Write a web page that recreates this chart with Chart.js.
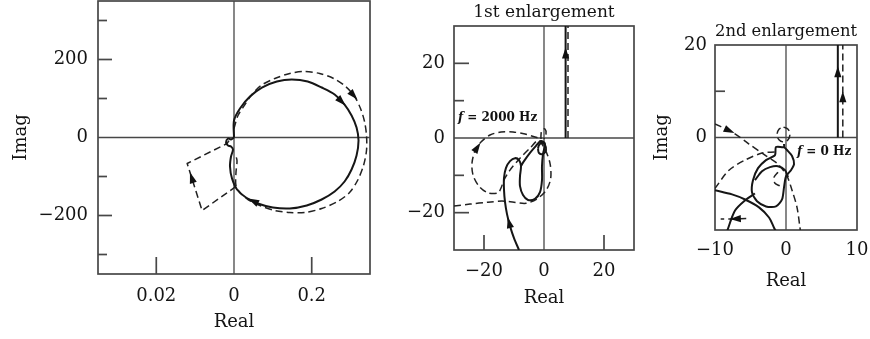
<!DOCTYPE html>
<html>
<head>
<meta charset="utf-8">
<script src="https://cdn.jsdelivr.net/npm/chart.js@4.4.1/dist/chart.umd.min.js"></script>
<style>
  html, body { margin: 0; padding: 0; background: #fff; }
  #wrap { position: relative; width: 870px; height: 339px; overflow: hidden; }
  #wrap canvas { position: absolute; top: 0; }
</style>
</head>
<body>
<div id="wrap">
  <canvas id="full" width="400" height="339" style="left:0px"></canvas>
  <canvas id="enl1" width="270" height="339" style="left:380px"></canvas>
  <canvas id="enl2" width="220" height="339" style="left:650px"></canvas>
</div>
<script>
// ---------- Nyquist curves, [Real, Imag] ----------

// Full view
const fullSolid = [[0,0],[0,43.6],[0.0154,74.4],[0.041,105.1],[0.0718,128.2],[0.1103,143.6],[0.1487,148.7],[0.1897,143.6],[0.2256,128.2],[0.259,110.3],[0.2846,84.6],[0.3026,56.4],[0.3154,25.6],[0.3205,-7.7],[0.3154,-46.2],[0.3026,-82.1],[0.2846,-112.8],[0.259,-138.5],[0.2256,-159],[0.1872,-174.4],[0.1436,-182.1],[0.1,-179.5],[0.0615,-169.2],[0.0308,-153.8],[0.0077,-133.3],[-0.0051,-105.1],[-0.0103,-74.4],[-0.0077,-48.7],[-0.0026,-30.8],[-0.0077,-23.1],[-0.0154,-20.5],[-0.0205,-12.8],[-0.0154,-2.6],[-0.0077,-5.1],[0,0]];
const fullDashed = [[0,23.1],[0.0103,56.4],[0.0282,84.6],[0.0462,110.3],[0.0692,133.3],[0.1051,151.3],[0.1436,164.1],[0.1821,169.2],[0.2205,164.1],[0.2564,151.3],[0.2872,130.8],[0.3103,105.1],[0.3256,74.4],[0.3359,41],[0.341,5.1],[0.341,-33.3],[0.3333,-71.8],[0.3179,-110.3],[0.2974,-141],[0.2667,-164.1],[0.2256,-182.1],[0.1821,-192.3],[0.1436,-192.3],[0.1051,-187.2],[0.0667,-174.4],[0.0359,-159],[0.0154,-141],[0.0051,-123.1],[0.0051,-89.7],[0.0077,-59],[0.0026,-41]];
const fullDashedTail = [[0.0051,-125.6],[-0.0821,-187.2],[-0.1205,-66.7],[-0.0179,-15.4],[-0.0128,-7.7]];
// arrow positions, as fractional point index along each curve
const fullSolidArrows = [9.7, 22.4];
const fullDashedArrows = [10.9];
const fullTailArrows = [1.7];
// axis ticks
const fullXTicks = [-0.2, 0, 0.2];
const fullXLabels = ['0.02', '0', '0.2'];
const fullYTicks = [-200, 0, 200];
const fullYLabels = ['\u2212200', '0', '200'];
const fullYMinor = [-300, -100, 100, 300];
const fullXMajor = [-0.2, 0.2];
const fullYMajor = [-200, 200];

// 1st enlargement
const enl1Solid = [[-8.33,-30],[-10,-26.8],[-11.33,-23.6],[-12.33,-20.4],[-13,-17.1],[-13.33,-13.9],[-13.33,-10.7],[-12.67,-8.0],[-11.33,-6.2],[-9.67,-5.4],[-8.33,-5.9],[-7.67,-7.5],[-8,-10.2],[-8,-12.9],[-7,-15.3],[-5.33,-16.6],[-3,-16.3],[-1.33,-14.5],[-0.67,-11.3],[-0.67,-7.5],[-0.33,-4.3],[0.33,-1.6],[-1,-0.8],[-2.67,-2.1],[-4.67,-4.0],[-6.67,-6.2],[-7.67,-7.5]];
const enl1SolidLoop = [[-2,-2.9],[-1.67,-1.9],[-0.67,-1.3],[0.33,-1.9],[0.67,-3.2],[-0.33,-4.3],[-1.67,-4.0],[-2,-2.9]];
const enl1SolidRise = [[7.2,0],[7.2,30]];
const enl1Dashed = [[-30,-18.2],[-24.67,-17.7],[-18.67,-17.2],[-14,-16.9],[-10,-17.2],[-6,-17.5],[-2.3,-16.3],[0.7,-14],[2.2,-11],[2.1,-7.2],[0.9,-4],[-0.7,-1.6],[-2,-0.6],[-4.67,-2.7],[-8,-5.4],[-11.33,-8.6],[-13.33,-11.25],[-14.33,-13.4],[-15.33,-14.7],[-18.67,-14.7],[-21.67,-12.9],[-23.67,-9.9],[-24,-6.7],[-23,-3.5],[-21,-1.07],[-18,0.8],[-14.33,1.6],[-10.33,1.6],[-6.33,1.07],[-3,0.27],[-1,-0.27]];
const enl1DashedSmall = [[-1,-0.27],[-1,0.8],[-0.67,2.1],[0.33,2.4],[0.67,1.07],[0,-0.27]];
const enl1DashedRise = [[8,0],[8,30]];
const enl1SolidArrows = [2.3];
const enl1RiseArrows = [0.76];
const enl1DashedArrows = [23.4];
const enl1XTicks = [-20, 0, 20];
const enl1XLabels = ['\u221220', '0', '20'];
const enl1YTicks = [-20, 0, 20];
const enl1YLabels = ['\u221220', '0', '20'];
const enl1XMajor = [-20, 20];
const enl1YMajor = [-20, 20];
const enl1YMinor = [-10, 10];
const enl1Note = { x: -28.7, y: 5.4, italic: 'f', text: ' = 2000 Hz' };

// 2nd enlargement
const enl2SolidRise = [[7.3,0],[7.3,20]];
const enl2SolidLoop = [[-0.28,-1.41],[-0.28,-2.07],[-1.41,-2.07],[-1.55,-3.8],[-2.82,-4.89],[-3.94,-6.63],[-4.65,-9.24],[-4.79,-11.85],[-4.08,-13.8],[-2.82,-14.9],[-1.41,-14.9],[-0.56,-13.4],[-0.28,-10.8],[0,-8.4],[0.7,-7.07],[1.13,-5.76],[0.85,-4.0],[0.14,-2.7],[-0.28,-2.07]];
const enl2SolidHat = [[-4.37,-9.24],[-3.38,-7.28],[-2.25,-6.41],[-1.13,-6.2],[-0.14,-7.07],[0.28,-8.59]];
const enl2SolidArc1 = [[-10,-11.4],[-7.6,-12.3],[-5.77,-13.4],[-3.8,-15.1],[-2.39,-17.3],[-1.69,-19.5],[-1.41,-20.3]];
const enl2SolidArc2 = [[-8.31,-20.3],[-7.18,-15.8],[-5.77,-13.6],[-4.37,-12.1]];
const enl2DashedRise = [[8,0],[8,20]];
const enl2DashedArcA = [[-10,2.93],[-7.6,1.2],[-5.21,-1.41],[-2.96,-3.8],[-1.13,-5.76],[0.14,-8.37],[0.85,-11.4],[1.55,-15.1],[1.97,-19.5],[2.11,-21.2]];
const enl2DashedArcB = [[-10,-11],[-8.03,-7.07],[-5.77,-4.89],[-3.38,-3.37],[-1.55,-3.15]];
const enl2DashedOrigin = [[-0.35,2.25],[0.29,1.78],[0.55,0.65],[0.29,-0.48],[-0.35,-0.95],[-0.99,-0.48],[-1.25,0.65],[-0.99,1.78],[-0.35,2.25]];
const enl2DashedBit = [[-1.13,-7.5],[-1.69,-8.6],[-1.55,-9.9],[-0.85,-10.5]];
const enl2DashedHook = [[-5.6,-17.5],[-7.3,-17.6],[-9.2,-17.6]];
const enl2SolidRiseArrows = [0.71];
const enl2DashedRiseArrows = [0.44];
const enl2ArcAArrows = [0.85];
const enl2HookArrows = [0.9];
const enl2XTicks = [-10, 0, 10];
const enl2XLabels = ['\u221210', '0', '10'];
const enl2YTicks = [0, 20];
const enl2YLabels = ['0', '20'];
const enl2YMinor = [10];
const enl2Note = { x: 1.55, y: -3.15, italic: 'f', text: ' = 0 Hz' };

// ---------- drawing helpers ----------
const INK = '#161616';
const FRAME = '#474747';
const TEXT = '#141414';
const SERIF = "'DejaVu Serif', 'Liberation Serif', serif";
Chart.defaults.font.family = SERIF;
Chart.defaults.color = TEXT;

function solid(points, arrows, tension) {
  return {
    data: points.map(([x, y]) => ({ x, y })),
    showLine: true, pointRadius: 0, borderColor: INK, borderWidth: 2,
    borderJoinStyle: 'round', tension: tension === undefined ? 0.3 : tension,
    arrowsAt: arrows || []
  };
}
function dashed(points, arrows, tension) {
  const d = solid(points, arrows, tension);
  d.borderWidth = 1.5;
  d.borderDash = [7, 4];
  d.borderColor = '#222';
  return d;
}

// frame around the plot area, zero axes and inward tick marks
const framePlugin = {
  id: 'frame',
  beforeDatasetsDraw(chart, args, o) {
    const { ctx, chartArea: a, scales: { x, y } } = chart;
    const seg = (x1, y1, x2, y2) => { ctx.beginPath(); ctx.moveTo(x1, y1); ctx.lineTo(x2, y2); ctx.stroke(); };
    ctx.save();
    ctx.strokeStyle = FRAME;
    ctx.lineWidth = 1.3;
    const x0 = x.getPixelForValue(0), y0 = y.getPixelForValue(0);
    seg(a.left, y0, a.right, y0);
    seg(x0, a.top, x0, a.bottom);
    ctx.lineWidth = 1.7;
    (o.yMajor || []).forEach(v => { const p = y.getPixelForValue(v); seg(a.left, p, a.left + o.yMajorLen, p); });
    (o.yMinor || []).forEach(v => { const p = y.getPixelForValue(v); seg(a.left, p, a.left + o.yMinorLen, p); });
    (o.xMajor || []).forEach(v => { const p = x.getPixelForValue(v); seg(p, a.bottom, p, a.bottom - o.xMajorLen); });
    ctx.strokeRect(a.left, a.top, a.right - a.left, a.bottom - a.top);
    ctx.restore();
  }
};

// filled arrowheads placed along a curve
const arrowPlugin = {
  id: 'arrowHeads',
  afterDatasetsDraw(chart) {
    const { ctx, chartArea: a } = chart;
    ctx.save();
    ctx.beginPath();
    ctx.rect(a.left, a.top, a.right - a.left, a.bottom - a.top);
    ctx.clip();
    chart.data.datasets.forEach((ds, di) => {
      const pts = chart.getDatasetMeta(di).data;
      (ds.arrowsAt || []).forEach(t => {
        const i = Math.floor(t), f = t - i;
        const p0 = pts[i], p1 = pts[i + 1];
        const px = p0.x + (p1.x - p0.x) * f, py = p0.y + (p1.y - p0.y) * f;
        const ang = Math.atan2(p1.y - p0.y, p1.x - p0.x);
        const L = 11, W = 3.6;
        ctx.save();
        ctx.translate(px, py);
        ctx.rotate(ang);
        ctx.fillStyle = '#111';
        ctx.beginPath();
        ctx.moveTo(L / 2, 0);
        ctx.lineTo(-L / 2, W);
        ctx.lineTo(-L / 2, -W);
        ctx.closePath();
        ctx.fill();
        ctx.restore();
      });
    });
    ctx.restore();
  }
};

// frequency annotation
const notePlugin = {
  id: 'note',
  afterDatasetsDraw(chart, args, o) {
    if (!o.note) return;
    const { ctx, scales: { x, y } } = chart;
    const px = x.getPixelForValue(o.note.x), py = y.getPixelForValue(o.note.y);
    ctx.save();
    ctx.fillStyle = '#111';
    ctx.textBaseline = 'middle';
    ctx.textAlign = 'left';
    ctx.font = 'italic bold 12px ' + SERIF;
    ctx.fillText(o.note.italic, px, py);
    const w = ctx.measureText(o.note.italic).width;
    ctx.font = 'bold 12px ' + SERIF;
    ctx.fillText(o.note.text, px + w, py);
    ctx.restore();
  }
};

function panel(id, c) {
  return new Chart(document.getElementById(id), {
    type: 'scatter',
    data: { datasets: c.datasets },
    options: {
      responsive: false,
      animation: false,
      devicePixelRatio: 1,
      events: [],
      layout: { padding: c.pad, autoPadding: false },
      plugins: {
        legend: { display: false },
        tooltip: { enabled: false },
        title: c.title ? {
          display: true, text: c.title, fullSize: false, color: TEXT,
          font: { size: 17, weight: 'normal' }, padding: c.titlePad
        } : { display: false },
        frame: c.frame,
        note: { note: c.note }
      },
      scales: {
        x: {
          type: 'linear', min: c.xRange[0], max: c.xRange[1],
          grid: { display: false, drawTicks: false }, border: { display: false },
          afterBuildTicks: s => { s.ticks = c.xTicks.map(v => ({ value: v })); },
          afterFit: s => { s.height = c.xH; s.paddingLeft = 0; s.paddingRight = 0; },
          ticks: { autoSkip: false, maxRotation: 0, padding: c.xTickPad, font: { size: 18 }, color: TEXT,
                   callback: (v, i) => c.xLabels[i] },
          title: { display: true, text: 'Real', font: { size: 18 }, color: TEXT,
                   padding: { top: 0, bottom: c.xTitlePad } }
        },
        y: {
          type: 'linear', min: c.yRange[0], max: c.yRange[1],
          grid: { display: false, drawTicks: false }, border: { display: false },
          afterBuildTicks: s => { s.ticks = c.yTicks.map(v => ({ value: v })); },
          afterFit: s => { s.width = c.yW; s.paddingTop = 0; s.paddingBottom = 0; },
          ticks: { autoSkip: false, padding: c.yTickPad, font: { size: 18 }, color: TEXT,
                   callback: (v, i) => c.yLabels[i] },
          title: c.yTitle ? { display: true, text: 'Imag', font: { size: 18 }, color: TEXT,
                   padding: { top: c.yTitlePad, bottom: 0 } } : { display: false }
        }
      }
    },
    plugins: [framePlugin, arrowPlugin, notePlugin]
  });
}

panel('full', {
  datasets: [
    solid(fullSolid, fullSolidArrows),
    dashed(fullDashed, fullDashedArrows),
    dashed(fullDashedTail, fullTailArrows, 0)
  ],
  pad: { left: 0, top: 1, right: 30, bottom: 0 },
  xRange: [-0.35, 0.35], yRange: [-350, 350],
  xTicks: fullXTicks, xLabels: fullXLabels, yTicks: fullYTicks, yLabels: fullYLabels,
  xH: 65, yW: 98, xTickPad: 12, yTickPad: 10, xTitlePad: 6, yTitle: true, yTitlePad: 11,
  frame: { xMajor: fullXMajor, xMajorLen: 17, yMajor: fullYMajor, yMajorLen: 14, yMinor: fullYMinor, yMinorLen: 9 }
});

panel('enl1', {
  datasets: [
    solid(enl1Solid, enl1SolidArrows),
    solid(enl1SolidLoop, [], 0.4),
    solid(enl1SolidRise, enl1RiseArrows, 0),
    dashed(enl1Dashed, enl1DashedArrows),
    dashed(enl1DashedSmall, [], 0.4),
    dashed(enl1DashedRise, [], 0)
  ],
  title: '1st enlargement', titlePad: { top: 2.8, bottom: 2.8 },
  pad: { left: 0, top: 0, right: 16, bottom: 0 },
  xRange: [-30, 30], yRange: [-30, 30],
  xTicks: enl1XTicks, xLabels: enl1XLabels, yTicks: enl1YTicks, yLabels: enl1YLabels,
  xH: 89, yW: 74, xTickPad: 11, yTickPad: 9, xTitlePad: 30, yTitle: false,
  frame: { xMajor: enl1XMajor, xMajorLen: 15, yMajor: enl1YMajor, yMajorLen: 15, yMinor: enl1YMinor, yMinorLen: 10 },
  note: enl1Note
});

panel('enl2', {
  datasets: [
    solid(enl2SolidRise, enl2SolidRiseArrows, 0),
    solid(enl2SolidLoop, [], 0.25),
    solid(enl2SolidHat, [], 0.3),
    solid(enl2SolidArc1, [], 0.3),
    solid(enl2SolidArc2, [], 0.3),
    dashed(enl2DashedRise, enl2DashedRiseArrows, 0),
    dashed(enl2DashedArcA, enl2ArcAArrows, 0.3),
    dashed(enl2DashedArcB, [], 0.3),
    dashed(enl2DashedOrigin, [], 0.4),
    dashed(enl2DashedBit, [], 0.3),
    dashed(enl2DashedHook, enl2HookArrows, 0.2)
  ],
  title: '2nd enlargement', titlePad: { top: 21.8, bottom: 2.8 },
  pad: { left: 0, top: 0, right: 13, bottom: 0 },
  xRange: [-10, 10], yRange: [-20, 20],
  xTicks: enl2XTicks, xLabels: enl2XLabels, yTicks: enl2YTicks, yLabels: enl2YLabels,
  xH: 109, yW: 65, xTickPad: 10, yTickPad: 8, xTitlePad: 47, yTitle: true, yTitlePad: 1.2,
  frame: { xMajor: [], xMajorLen: 0, yMajor: [], yMajorLen: 0, yMinor: enl2YMinor, yMinorLen: 10 },
  note: enl2Note
});
</script>
</body>
</html>
